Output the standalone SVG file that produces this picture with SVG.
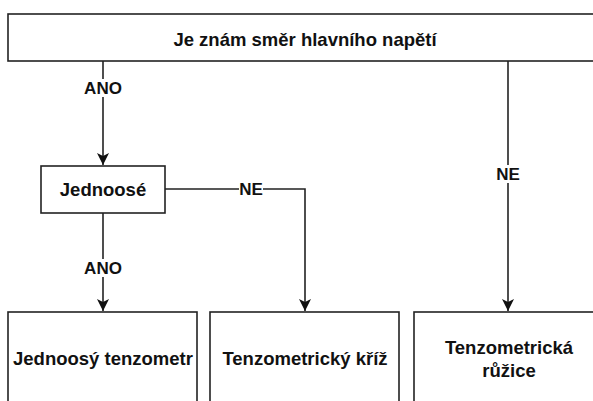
<svg xmlns="http://www.w3.org/2000/svg" width="593" height="401" viewBox="0 0 593 401">
<defs>
<style>
.box{fill:#fff;stroke:#222;stroke-width:1.6}
.t{font-family:"Liberation Sans",Arial,sans-serif;font-weight:bold;font-size:18.5px;fill:#111;text-anchor:middle;dominant-baseline:central}
.lbl{font-family:"Liberation Sans",Arial,sans-serif;font-weight:bold;font-size:17px;fill:#111;text-anchor:middle;dominant-baseline:central}
.edge{fill:none;stroke:#222;stroke-width:1.6}
.bg{fill:#fff}
</style>
<marker id="arr" viewBox="0 0 10 10" refX="10" refY="5" markerWidth="12" markerHeight="12" markerUnits="userSpaceOnUse" orient="auto">
<path d="M0,0 L10,5 L0,10 L2.5,5 Z" fill="#111"/>
</marker>
</defs>
<rect width="593" height="401" fill="#fff"/>
<g id="connectors">
<path class="edge" d="M103,61 L103,165" marker-end="url(#arr)"/>
<path class="edge" d="M508,61 L508,311" marker-end="url(#arr)"/>
<path class="edge" d="M165,189 L305,189 L305,311" marker-end="url(#arr)"/>
<path class="edge" d="M103,213 L103,311" marker-end="url(#arr)"/>
<rect class="bg" x="87" y="79" width="32" height="18"/>
<text class="lbl" x="103" y="88">ANO</text>
<rect class="bg" x="87" y="259" width="32" height="18"/>
<text class="lbl" x="103" y="268">ANO</text>
<rect class="bg" x="239" y="180" width="24" height="18"/>
<text class="lbl" x="251" y="189">NE</text>
<rect class="bg" x="496" y="165" width="24" height="18"/>
<text class="lbl" x="508" y="174">NE</text>
</g>
<g id="node-top">
<rect class="box" x="8" y="14" width="600" height="47"/>
<text class="t" x="305" y="39">Je znám směr hlavního napětí</text>
</g>
<g id="node-jednoose">
<rect class="box" x="41" y="166" width="124" height="47"/>
<text class="t" x="103" y="189">Jednoosé</text>
</g>
<g id="node-jednoosy">
<rect class="box" x="8" y="312" width="189" height="100"/>
<text class="t" x="103" y="358">Jednoosý tenzometr</text>
</g>
<g id="node-kriz">
<rect class="box" x="210" y="312" width="189" height="100"/>
<text class="t" x="305" y="358">Tenzometrický kříž</text>
</g>
<g id="node-ruzice">
<rect class="box" x="414" y="312" width="189" height="100"/>
<text class="t" x="509" y="347">Tenzometrická</text>
<text class="t" x="509" y="370">růžice</text>
</g>
</svg>
